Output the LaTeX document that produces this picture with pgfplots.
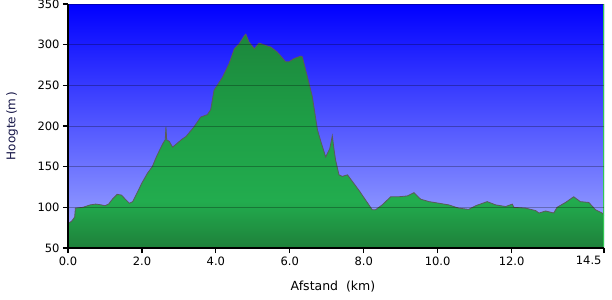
\documentclass[border=0pt]{standalone}
\usepackage{fontspec}
\setmainfont{DejaVu Sans}
\usepackage{pgfplots}
\usepackage{pgfplotstable}
\pgfplotsset{compat=1.18}
\definecolor{bgtop}{RGB}{0,0,255}
\definecolor{bgbot}{RGB}{165,175,255}
\definecolor{gbot}{RGB}{30,128,58}
\definecolor{gbright}{RGB}{34,172,78}
\definecolor{gmid}{RGB}{30,158,70}
\definecolor{gtop}{RGB}{28,135,60}
\definecolor{edgegreen}{RGB}{50,200,80}
\definecolor{outline}{RGB}{90,90,90}
\pgfdeclareverticalshading{greenprof}{100bp}{color(0bp)=(gbot); color(25bp)=(gbot); color(36bp)=(gbright); color(55bp)=(gmid); color(75bp)=(gtop); color(100bp)=(gtop)}
\pgfplotstableread{
km elev
0.00 50
0.00 80
0.10 83
0.18 88
0.20 99
0.40 100
0.60 103
0.75 104
0.90 103
1.00 102
1.10 104
1.20 110
1.33 116
1.45 115
1.55 110
1.66 105
1.75 107
1.85 116
2.00 130
2.15 142
2.28 150
2.40 163
2.56 178
2.63 183
2.65 199
2.67 183
2.74 181
2.83 174
2.96 179
3.09 184
3.19 187
3.41 199
3.59 211
3.77 214
3.86 220
3.95 244
4.18 260
4.36 277
4.50 295
4.63 301
4.77 311
4.81 313
4.90 303
5.04 295
5.17 302
5.35 299
5.49 297
5.66 291
5.89 279
5.98 279
6.12 283
6.30 286
6.34 285
6.48 260
6.61 236
6.75 195
6.84 181
6.97 162
7.08 172
7.15 188
7.20 170
7.24 158
7.33 140
7.42 138
7.56 140
7.69 132
7.87 121
8.05 109
8.23 97
8.32 97
8.50 103
8.73 113
8.95 113
9.18 114
9.36 118
9.54 110
9.77 107
10.04 105
10.30 103
10.57 99
10.84 97.5
11.03 102
11.34 107
11.57 103
11.84 101
12.02 104
12.06 100
12.38 99
12.65 96
12.74 93
12.92 95.5
13.14 93
13.23 100
13.46 106
13.68 113
13.86 107
14.09 106
14.27 97
14.45 93
14.50 90
14.50 50
}\prof
\begin{document}
\begin{tikzpicture}
\path[use as bounding box] (-68bp,-52bp) rectangle (544bp,248bp);
\begin{axis}[
  at={(0,0)}, anchor=south west,
  scale only axis, width=536bp, height=244bp,
  xmin=0, xmax=14.5, ymin=50, ymax=350,
  axis lines*=left,
  axis line style={line width=1.5bp, black},
  tick style={line width=1.2bp, black},
  tick align=outside, major tick length=5bp,
  xtick={0,2,4,6,8,10,12},
  xticklabels={0.0,2.0,4.0,6.0,8.0,10.0,12.0},
  extra x ticks={14.5},
  extra x tick labels={14.5},
  extra x tick style={xticklabel style={anchor=north east, xshift=1bp}},
  ytick={50,100,...,350},
  ymajorgrids,
  major grid style={black, opacity=0.28, line width=1bp},
  axis on top,
  axis background/.style={shade, top color=bgtop, bottom color=bgbot},
  /pgf/number format/assume math mode=true,
  ticklabel style={font=\fontsize{11.5bp}{13bp}\selectfont, text=black},
  xlabel={Afstand~~(km)}, ylabel={Hoogte\,(m\,)},
  xlabel style={at={([xshift=-3bp, yshift=-39bp]axis description cs:0.5,0)}, anchor=center, font=\fontsize{12.5bp}{14bp}\selectfont},
  ylabel style={at={([xshift=-56bp]axis description cs:0,0.5)}, anchor=center, font=\fontsize{12bp}{14bp}\selectfont, text={rgb,255:red,20;green,20;blue,70}},
]
\addplot[draw=none, shade, shading=greenprof] table[x=km, y=elev] {\prof};
\addplot[color=outline, line width=0.8bp, restrict y to domain=51:400] table[x=km, y=elev] {\prof};
\addplot[color=edgegreen, line width=1.2bp] coordinates {(14.5,50) (14.5,350)};
\end{axis}
\end{tikzpicture}
\end{document}
